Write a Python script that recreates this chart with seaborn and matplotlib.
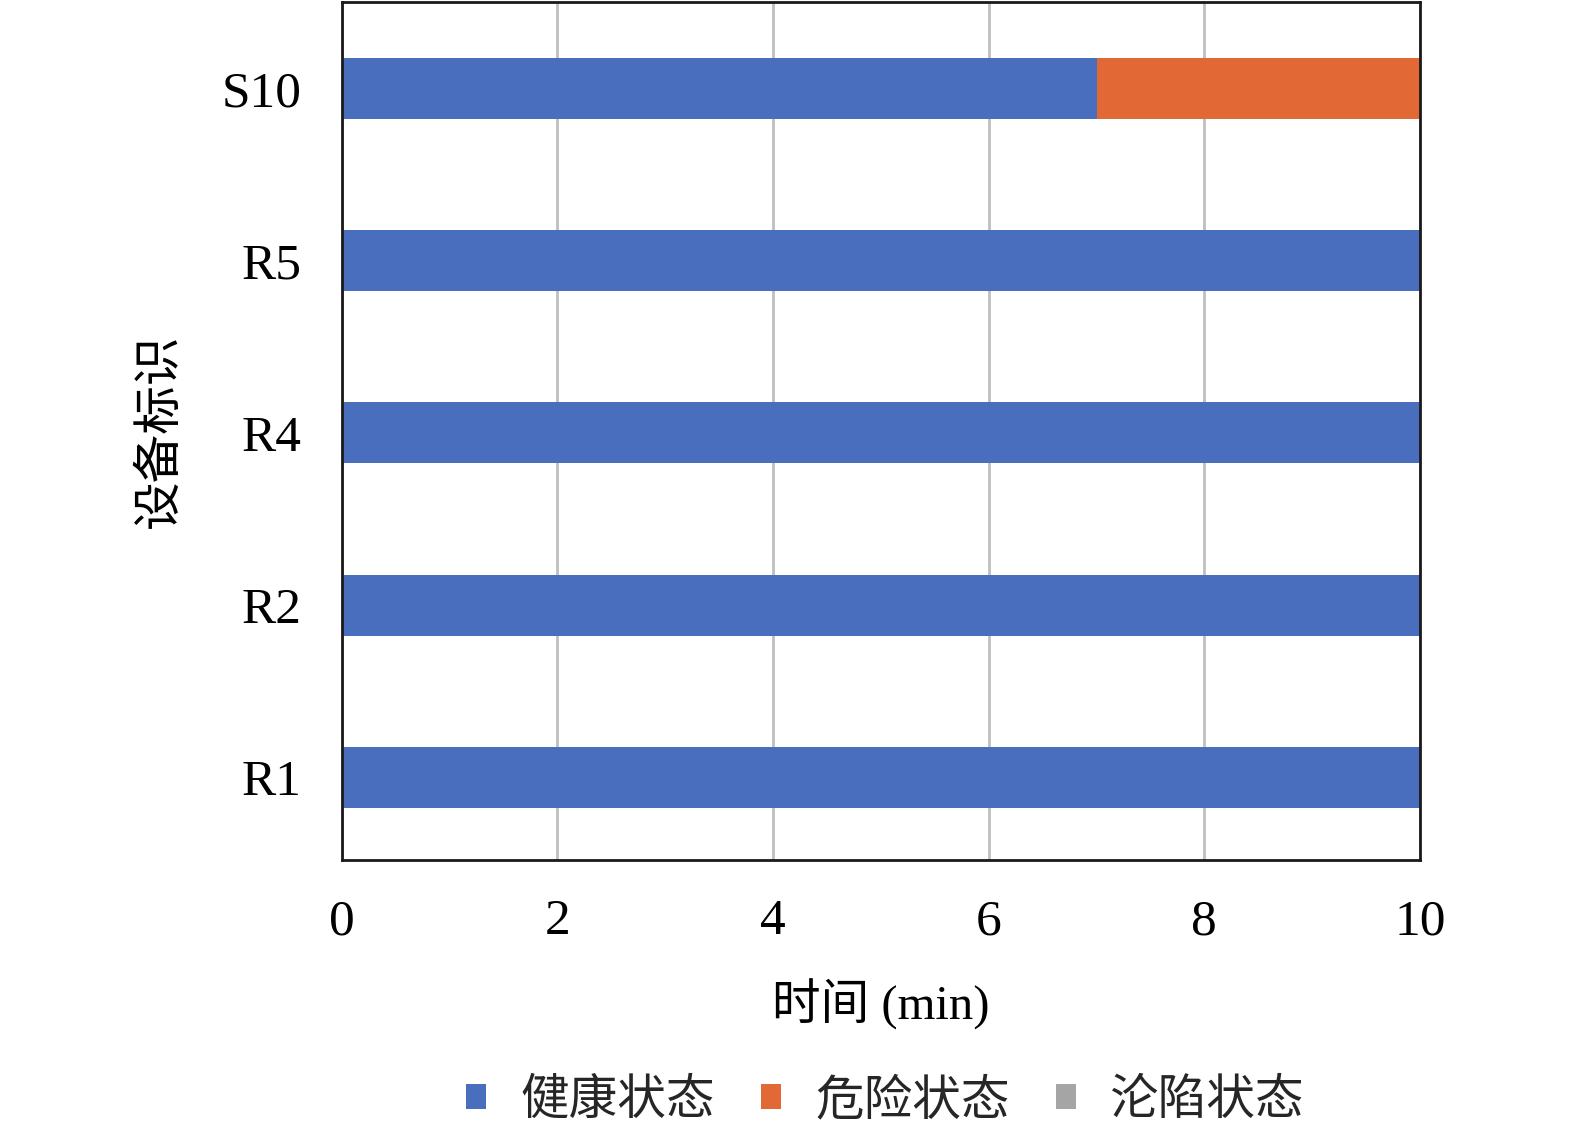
import pandas as pd
import numpy as np
import matplotlib
matplotlib.use('Agg')
import matplotlib.pyplot as plt
import seaborn as sns
from matplotlib.patches import Patch

# 데이터
devices = ['S10', 'R5', 'R4', 'R2', 'R1']
healthy = [7, 10, 10, 10, 10]
danger = [3, 0, 0, 0, 0]
fallen = [0, 0, 0, 0, 0]
states = ['健康状态', '危险状态', '沦陷状态']
colors = ['#4A6EBE', '#E26935', '#A5A5A5']

sns.set_theme(style='white')
plt.rcParams['font.family'] = ['Liberation Serif', 'Noto Sans CJK SC', 'DejaVu Sans']

df = pd.DataFrame({'设备': devices, 'healthy': healthy, 'danger': danger, 'fallen': fallen})
df['total_danger'] = df['healthy'] + df['danger']
df['total_fallen'] = df['total_danger'] + df['fallen']

fig = plt.figure(figsize=(15.75, 11.26), dpi=100)
ax = fig.add_axes([0.217, 0.2362, 0.6846, 0.7618])

# 누적 막대: 뒤에서부터 그리기
for col, c in zip(['total_fallen', 'total_danger', 'healthy'], colors[::-1]):
    sns.barplot(data=df, x=col, y='设备', order=devices, color=c,
                width=0.355, saturation=1, ax=ax, zorder=2,
                edgecolor='none', linewidth=0)

ax.set_xlim(0, 10)
ax.set_ylim(4.48, -0.5)
ax.set_xticks([0, 2, 4, 6, 8, 10])
ax.xaxis.grid(True, color='#BFBFBF', linewidth=2, zorder=0)
ax.set_axisbelow(True)
for s in ax.spines.values():
    s.set_visible(True)
    s.set_color('#1a1a1a')
    s.set_linewidth(2)

ax.tick_params(axis='both', length=0, labelsize=37, colors='black')
ax.tick_params(axis='x', pad=28)
ax.tick_params(axis='y', pad=29)

ax.set_xlabel('时间 (min)', fontsize=35, labelpad=24, color='black')
ax.set_ylabel('设备标识', fontsize=35, labelpad=28, color='black')

handles = [Patch(facecolor=c, edgecolor='none', label=l) for c, l in zip(colors, states)]
fig.legend(handles=handles, loc='center', bbox_to_anchor=(0.562, 0.022), ncol=3,
           frameon=False, fontsize=35, handlelength=0.42, handleheight=0.42,
           handletextpad=0.7, columnspacing=0.95)

fig.savefig('out.png', dpi=100)
